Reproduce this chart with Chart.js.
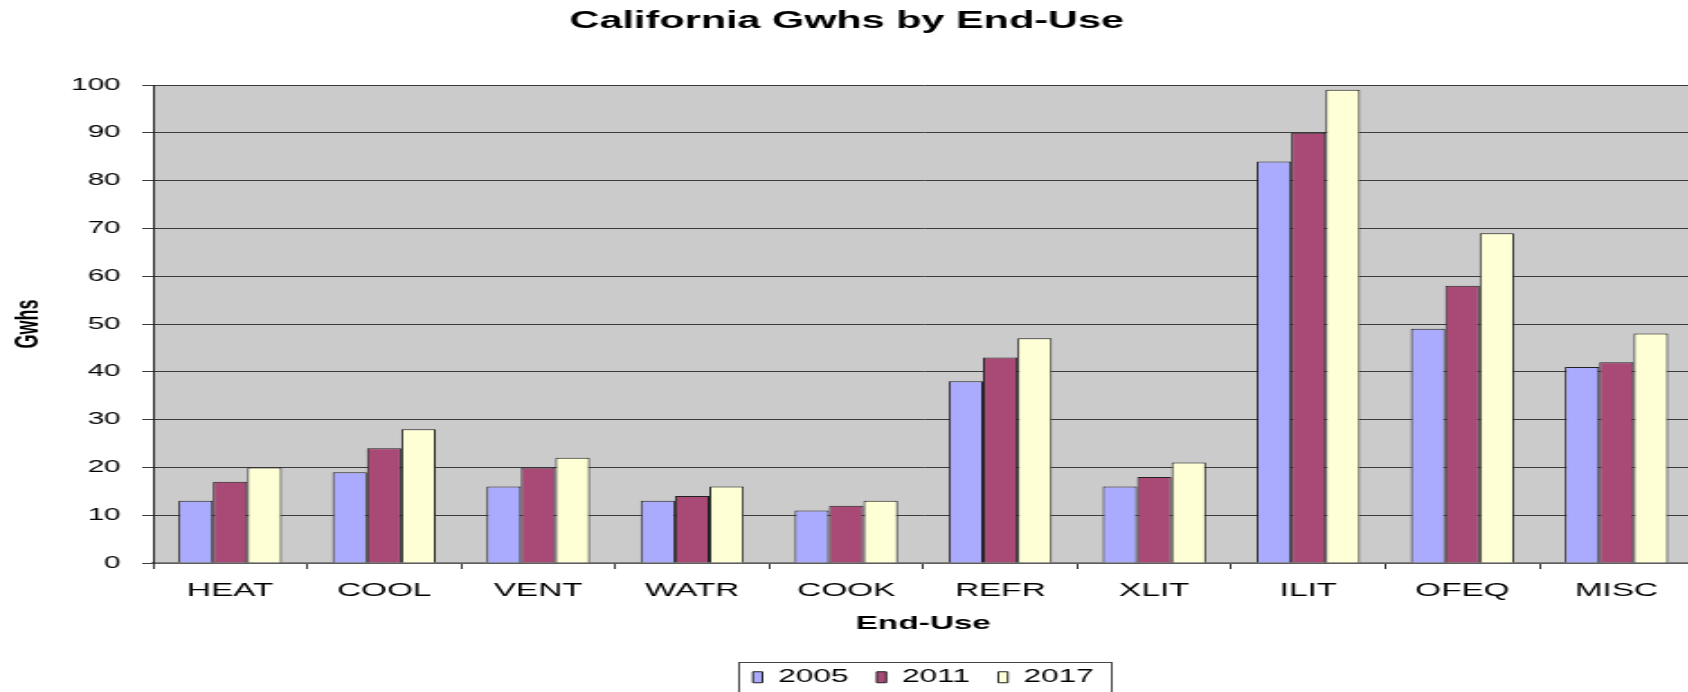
<!DOCTYPE html>
<html>
<head>
<meta charset="utf-8">
<title>California Gwhs by End-Use</title>
<script src="https://cdn.jsdelivr.net/npm/chart.js@4/dist/chart.umd.min.js"></script>
<style>
  html, body { margin: 0; padding: 0; background: #fff; overflow: hidden; }
  #wrap { width: 1688px; height: 692px; overflow: hidden; }
</style>
</head>
<body>
<div id="wrap">
  <!-- the old chart is stretched sideways, so draw narrow and widen with css -->
  <canvas id="chart" width="942" height="692" style="width:1695.6px;height:692px;"></canvas>
</div>
<script>
const categories = ["HEAT", "COOL", "VENT", "WATR", "COOK", "REFR", "XLIT", "ILIT", "OFEQ", "MISC"];
const years = ["2005", "2011", "2017"];

const gwh2005 = [13, 19, 16, 13, 11, 38, 16, 84, 49, 41];
const gwh2011 = [17, 24, 20, 14, 12, 43, 18, 90, 58, 42];
const gwh2017 = [20, 28, 22, 16, 13, 47, 21, 99, 69, 48];

const yTicks = [0, 10, 20, 30, 40, 50, 60, 70, 80, 90, 100];

const FONT = "'Liberation Sans', Arial, Helvetica, sans-serif";

// grey plot background
const plotBackground = {
  id: "plotBackground",
  beforeDraw(chart) {
    const { ctx, chartArea } = chart;
    ctx.save();
    ctx.fillStyle = "#cbcbcb";
    ctx.fillRect(chartArea.left, chartArea.top, chartArea.right - chartArea.left, chartArea.bottom - chartArea.top);
    ctx.restore();
  }
};

// frame around the legend items
const legendFrame = {
  id: "legendFrame",
  afterDraw(chart) {
    const boxes = chart.legend && chart.legend.legendHitBoxes;
    if (!boxes || !boxes.length) return;
    const first = boxes[0];
    const last = boxes[boxes.length - 1];
    const left = Math.round(first.left - 8) + 0.5;
    const right = Math.round(last.left + last.width + 10) + 0.5;
    const top = Math.round(first.top + first.height / 2 - 15) + 0.5;
    const ctx = chart.ctx;
    ctx.save();
    ctx.strokeStyle = "#444";
    ctx.lineWidth = 1;
    ctx.strokeRect(left, top, right - left, 60);
    ctx.restore();
  }
};

const makeSet = (label, data, color) => ({
  label: label,
  data: data,
  backgroundColor: color,
  borderColor: "#222",
  borderWidth: 1,
  categoryPercentage: 0.67,
  barPercentage: 1.0
});

new Chart(document.getElementById("chart"), {
  type: "bar",
  data: {
    labels: categories,
    datasets: [
      makeSet(years[0], gwh2005, "#aaaaff"),
      makeSet(years[1], gwh2011, "#a94a76"),
      makeSet(years[2], gwh2017, "#ffffd5")
    ]
  },
  options: {
    responsive: false,
    devicePixelRatio: 1,
    animation: false,
    layout: { padding: { left: 0, right: 1.4, top: 0, bottom: -4 } },
    plugins: {
      tooltip: { enabled: false },
      title: {
        display: true,
        text: "California Gwhs by End-Use",
        color: "#000",
        font: { family: FONT, size: 23, weight: "bold" },
        padding: { top: 8, bottom: 49.4 }
      },
      legend: {
        display: true,
        position: "bottom",
        fullSize: false,
        labels: {
          color: "#000",
          font: { family: FONT, size: 17.5 },
          boxWidth: 5.3,
          boxHeight: 11,
          padding: 15.8
        }
      }
    },
    scales: {
      x: {
        offset: true,
        grid: {
          display: true,
          offset: true,
          drawOnChartArea: false,
          drawTicks: true,
          tickLength: 6,
          color: "#333"
        },
        border: { display: true, color: "#808080", width: 1.5 },
        ticks: {
          color: "#000",
          font: { family: FONT, size: 18.5 },
          padding: 11,
          maxRotation: 0,
          autoSkip: false
        },
        title: {
          display: true,
          text: "End-Use",
          color: "#000",
          font: { family: FONT, size: 18.5, weight: "bold" },
          padding: { top: 0, bottom: 17.3 }
        }
      },
      y: {
        min: 0,
        max: 100,
        afterFit(scale) { scale.width = 85; },
        afterBuildTicks(scale) { scale.ticks = yTicks.map(v => ({ value: v })); },
        grid: {
          color: "#3c3c3c",
          lineWidth: 1,
          tickLength: 6,
          drawTicks: true
        },
        border: { display: true, color: "#222", width: 1 },
        ticks: {
          color: "#000",
          font: { family: FONT, size: 16.5 },
          padding: 12
        },
        title: {
          display: true,
          text: "Gwhs",
          color: "#000",
          font: { family: FONT, size: 18, weight: "bold" },
          padding: { top: 5, bottom: 0 }
        }
      }
    }
  },
  plugins: [plotBackground, legendFrame]
});
</script>
</body>
</html>
